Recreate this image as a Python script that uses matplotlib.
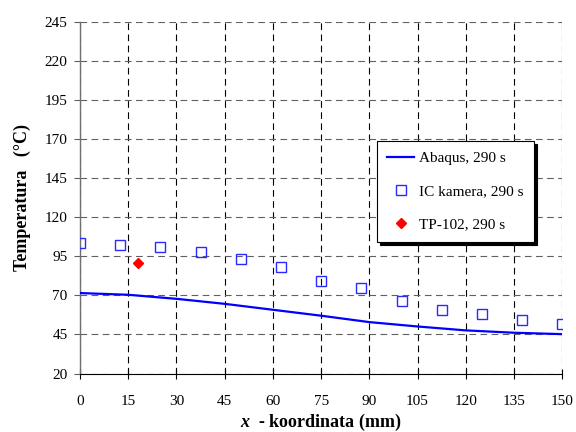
import matplotlib
matplotlib.use("Agg")
import matplotlib.pyplot as plt
import numpy as np

plt.rcParams['font.family'] = ['Liberation Serif', 'DejaVu Serif']
plt.rcParams['mathtext.fontset'] = 'custom'
plt.rcParams['mathtext.rm'] = 'Liberation Serif'
plt.rcParams['mathtext.it'] = 'Liberation Serif:italic'
plt.rcParams['mathtext.bf'] = 'Liberation Serif:bold'
plt.rcParams['mathtext.bfit'] = 'Liberation Serif:italic:bold'

# Abaqus simulation curve
abaqus_x = [0, 15, 30, 45, 60, 75, 90, 105, 120, 135, 150]
abaqus_t = [71.5, 70.4, 67.8, 64.6, 60.8, 57.0, 52.9, 50.1, 47.6, 46.1, 45.2]

# IC camera measurements
ic_x = [0, 12.5, 25, 37.5, 50, 62.5, 75, 87.5, 100, 112.5, 125, 137.5, 150]
ic_t = [103.5, 102.5, 100.8, 97.6, 93.5, 88.0, 79.2, 74.7, 66.2, 60.9, 57.8, 54.4, 51.6]

# thermocouple
tp_x = [18]
tp_t = [91]

xticks = np.arange(0, 151, 15)
yticks = np.arange(20, 246, 25)

fig = plt.figure(figsize=(5.76, 4.32), dpi=100)
ax = fig.add_axes([0.1389, 0.1354, 0.8373, 0.8136])

ax.plot(abaqus_x, abaqus_t, color='#0000ff', lw=1.6, label='Abaqus, 290 s', zorder=3)
ax.plot(ic_x, ic_t, ls='none', marker='s', ms=6.5, mfc='none', mec='#2a2aff',
        mew=1.0, label='IC kamera, 290 s', zorder=4)
ax.plot(tp_x, tp_t, ls='none', marker='D', ms=5.5, color='#ff0000',
        label='TP-102, 290 s', zorder=4)

ax.set_xlim(0, 150)
ax.set_ylim(20, 245)
ax.set_xticks(xticks)
ax.set_yticks(yticks)
ax.tick_params(axis='both', labelsize=11, colors='black')
ax.tick_params(axis='x', direction='inout', length=7, width=0.8, pad=12)
ax.tick_params(axis='y', direction='out', length=4, width=0.8, color='#606060', pad=5)

for s in ['top', 'right']:
    ax.spines[s].set_visible(False)
ax.spines['left'].set_color('#707070')
ax.spines['left'].set_linewidth(1.0)
ax.spines['bottom'].set_color('black')
ax.spines['bottom'].set_linewidth(0.8)

ax.xaxis.grid(True, color='black', ls=(0, (6, 4)), lw=0.8)
ax.yaxis.grid(True, color='#606060', ls=(0, (6, 4)), lw=0.8)
ax.set_axisbelow(True)

ax.set_xlabel(r'$\mathbfit{x}$  - koordinata (mm)', fontsize=13, fontweight='bold', labelpad=3)
ax.set_ylabel('Temperatura   (°C)', fontsize=13, fontweight='bold', labelpad=10)

leg = ax.legend(loc='upper left', bbox_to_anchor=(0.616, 0.661), fontsize=11,
                frameon=True, fancybox=False, shadow={'color': 'black', 'alpha': 1},
                edgecolor='black', framealpha=1, borderpad=0.67, labelspacing=1.28,
                handlelength=1.75, handletextpad=0.35, borderaxespad=0)
leg.get_frame().set_linewidth(0.8)

fig.savefig('out.png', dpi=100)
